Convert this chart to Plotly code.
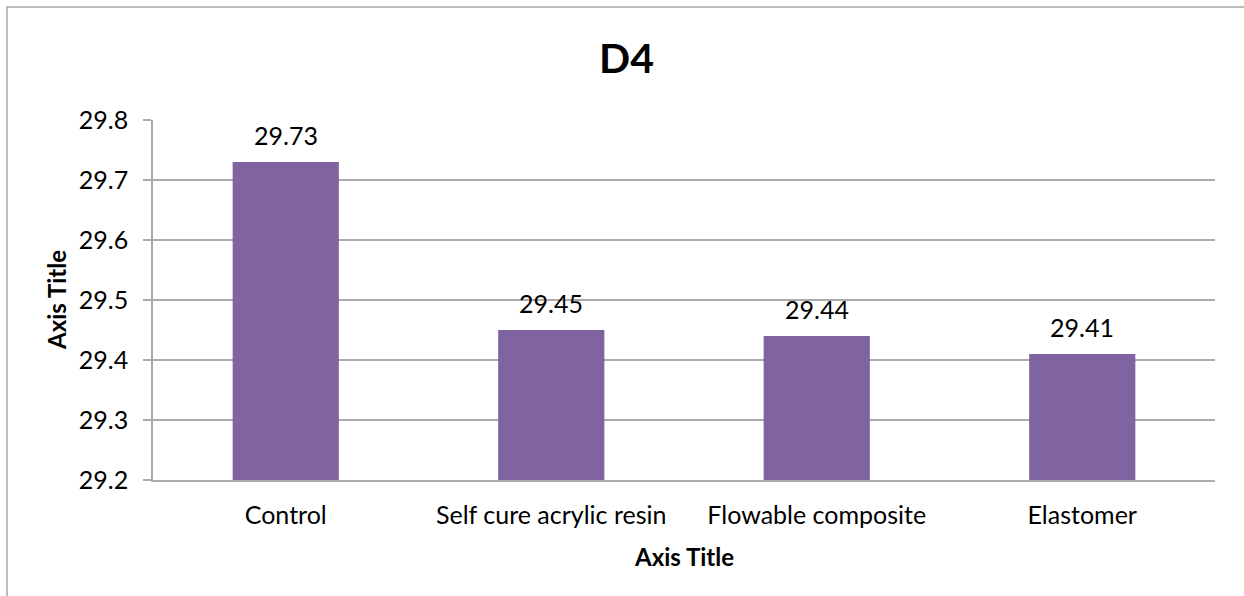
import plotly.graph_objects as go

# Chart data
categories = ["Control", "Self cure acrylic resin", "Flowable composite", "Elastomer"]
values = [29.73, 29.45, 29.44, 29.41]
y_ticks = [29.2, 29.3, 29.4, 29.5, 29.6, 29.7, 29.8]

W, H = 1244, 596
ML, MR, MT, MB = 153, 29, 120, 116
PW, PH = W - ML - MR, H - MT - MB

FONT = "Lato, sans-serif"
GRID = "#ABABAB"
BAR = "#8064A2"
TXT = 25


def px_x(x):
    return (x - ML) / PW


def px_y(y):
    return 1 - (y - MT) / PH


fig = go.Figure()
fig.add_trace(go.Bar(
    x=categories,
    y=values,
    marker=dict(color=BAR, line=dict(width=0)),
    width=0.4,
    hoverinfo="x+y",
))

# Value labels above each bar
for c, v in zip(categories, values):
    fig.add_annotation(
        x=c, y=v, text=f"{v:.2f}", showarrow=False,
        yanchor="bottom", yshift=10,
        font=dict(family=FONT, size=TXT, color="#000000"),
    )

# Axis titles
fig.add_annotation(
    xref="paper", yref="paper", x=0.5, y=px_y(556),
    text="<b>Axis Title</b>", showarrow=False,
    xanchor="center", yanchor="middle",
    font=dict(family=FONT, size=24, color="#000000"),
)
fig.add_annotation(
    xref="paper", yref="paper", x=px_x(56), y=0.5,
    text="<b>Axis Title</b>", showarrow=False, textangle=-90,
    xanchor="center", yanchor="middle",
    font=dict(family=FONT, size=24, color="#000000"),
)

# Chart title
fig.add_annotation(
    xref="paper", yref="paper", x=px_x(626), y=px_y(58),
    text="<b>D4</b>", showarrow=False,
    xanchor="center", yanchor="middle",
    font=dict(family=FONT, size=41, color="#000000"),
)

# Outer chart frame (right and bottom edges fall outside the page)
fig.add_shape(
    type="rect", xref="paper", yref="paper",
    x0=px_x(7), y0=px_y(W), x1=px_x(W + 40), y1=px_y(7),
    line=dict(color="#A6A6A6", width=1.5), fillcolor="rgba(0,0,0,0)",
    layer="below",
)

fig.update_layout(
    width=W, height=H,
    margin=dict(l=ML, r=MR, t=MT, b=MB, pad=0),
    paper_bgcolor="white",
    plot_bgcolor="white",
    showlegend=False,
    font=dict(family=FONT, size=TXT, color="#000000"),
    xaxis=dict(
        showline=True, linecolor=GRID, linewidth=1.5,
        showgrid=False, ticks="", ticklabelstandoff=12,
        tickfont=dict(family=FONT, size=TXT, color="#000000"),
        fixedrange=True,
    ),
    yaxis=dict(
        range=[29.2, 29.8], tickvals=y_ticks,
        ticktext=[f"{t:.1f}" for t in y_ticks],
        showline=True, linecolor=GRID, linewidth=1.5,
        showgrid=True, gridcolor=GRID, gridwidth=1.5,
        zeroline=False,
        ticks="outside", ticklen=8, tickcolor=GRID, tickwidth=1.5,
        ticklabelstandoff=10,
        tickfont=dict(family=FONT, size=TXT, color="#000000"),
        fixedrange=True,
    ),
)

fig.write_html("out.html")
